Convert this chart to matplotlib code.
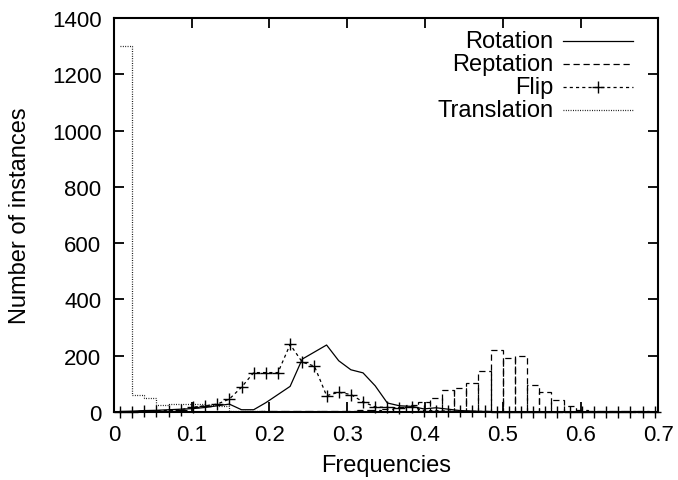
import matplotlib
matplotlib.use("Agg")
import matplotlib.pyplot as plt
import numpy as np

# histogram bins of width 1/64
bin_width = 1 / 64
n_bins = 45

rotation = [2, 3, 5, 6, 8, 10, 12, 16, 22, 28, 8, 8, 33, 62, 91, 188, 213, 238, 182, 150,
            139, 93, 32, 22, 20, 11, 15, 10, 5, 3, 1, 0, 0, 0, 0, 0, 0, 0, 0, 0,
            0, 0, 0, 0, 0]
reptation = [0, 0, 0, 0, 0, 1, 1, 1, 1, 1, 1, 1, 2, 2, 3, 3, 3, 4, 3, 5,
             8, 8, 12, 17, 25, 37, 49, 79, 84, 102, 147, 221, 191, 200, 97, 70, 43, 20, 8, 5,
             4, 4, 3, 2, 1]
flip = [0, 0, 3, 5, 5, 8, 17, 22, 28, 46, 88, 140, 140, 140, 240, 177, 163, 58, 70, 62,
        36, 18, 16, 15, 18, 5, 5, 3, 3, 2, 2, 1, 1, 1, 1, 1, 0, 1, 0, 0,
        0, 0, 0, 0, 0]
translation = [1300, 60, 50, 26, 30, 28, 28, 25, 20, 5, 5, 5, 0, 0, 0, 0, 0, 0, 0, 0,
               0, 0, 0, 0, 0, 0, 0, 0, 0, 0, 0, 0, 0, 0, 0, 0, 0, 0, 0, 0,
               0, 0, 0, 0, 0]

labels = ["Rotation", "Reptation", "Flip", "Translation"]
x_ticks = [0, 0.1, 0.2, 0.3, 0.4, 0.5, 0.6, 0.7]
y_ticks = [0, 200, 400, 600, 800, 1000, 1200, 1400]

plt.rcParams["font.family"] = ["Liberation Sans", "DejaVu Sans"]
plt.rcParams["font.size"] = 16

centers = (np.arange(n_bins) + 0.5) * bin_width

fig = plt.figure(figsize=(6.78, 4.81), dpi=100)
ax = fig.add_axes([0.168, 0.1414, 0.803, 0.8191])

lw = 0.9
styles = {
    "Rotation": dict(color="black", lw=lw, ls="-"),
    "Reptation": dict(color="black", lw=lw, ls=(0, (5, 3))),
    "Flip": dict(color="black", lw=lw, ls=(0, (2.5, 2.5))),
    "Translation": dict(color="black", lw=lw, ls=(0, (0.7, 1.2))),
}

ax.plot(centers, rotation, **styles["Rotation"])
ax.bar(centers, reptation, width=bin_width, fill=False, edgecolor="black",
       linewidth=lw, linestyle=(0, (5, 3)))
ax.plot(centers, flip, marker="+", markersize=9, markeredgewidth=1.0,
        clip_on=False, **styles["Flip"])
ax.step(centers, translation, where="post", **styles["Translation"])

ax.set_xlim(0, 0.7)
ax.set_ylim(0, 1400)
ax.set_xticks(x_ticks)
ax.set_xticklabels([f"{v:g}" for v in x_ticks])
ax.set_yticks(y_ticks)
ax.tick_params(direction="in", length=7, width=1.3, top=True, right=True, labelsize=16)
ax.tick_params(axis="x", pad=9)
ax.tick_params(axis="y", pad=9)
for s in ax.spines.values():
    s.set_linewidth(1.5)

ax.set_xlabel("Frequencies", fontsize=17, labelpad=6)
ax.set_ylabel("Number of instances", fontsize=17, labelpad=15)

# gnuplot-style key: right-aligned text, sample line on the right
key_y = [0.942, 0.883, 0.825, 0.767]
for i, name in enumerate(labels):
    y = key_y[i]
    ax.text(0.807, y, name, transform=ax.transAxes, ha="right", va="center", fontsize=17)
    if name == "Reptation":
        ax.plot([0.825, 0.953], [y, y], transform=ax.transAxes, color="black",
                lw=lw, ls=(0, (5, 3)))
    elif name == "Flip":
        ax.plot([0.825, 0.953], [y, y], transform=ax.transAxes, **styles["Flip"])
        ax.plot([0.889], [y], transform=ax.transAxes, marker="+", markersize=9,
                markeredgewidth=1.0, color="black", ls="none")
    else:
        ax.plot([0.825, 0.953], [y, y], transform=ax.transAxes, **styles[name])

fig.savefig("out.png", dpi=100)
